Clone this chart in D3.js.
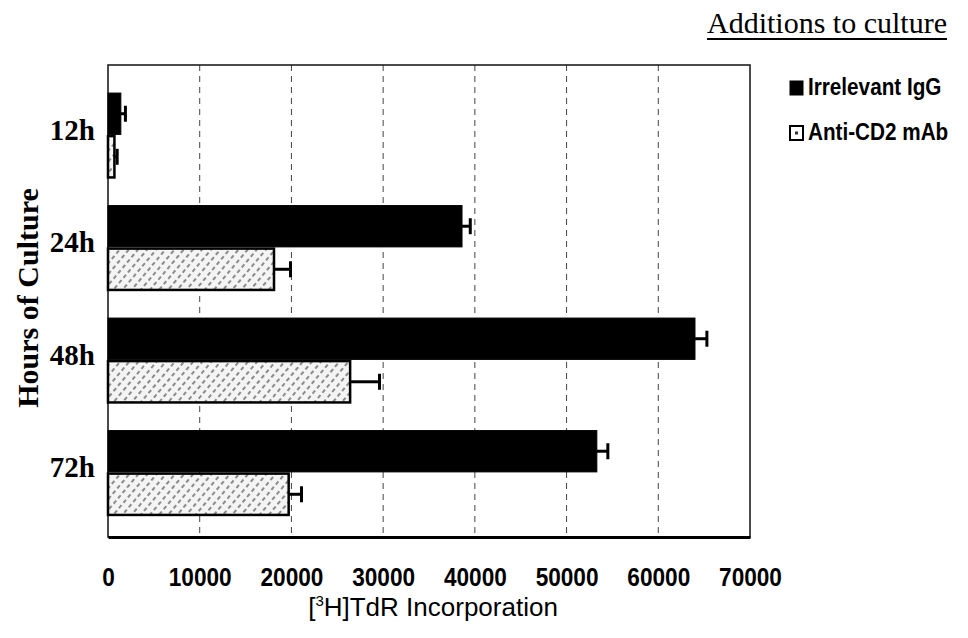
<!DOCTYPE html>
<html><head><meta charset="utf-8">
<script src="https://cdn.jsdelivr.net/npm/d3@7"></script>
<style>
html,body{margin:0;padding:0;background:#fff;}
svg{display:block;}
</style>
</head><body>
<svg id="chart" width="968" height="638"></svg>
<script>
// ---- data ----
const categories = ["12h", "24h", "48h", "72h"];
const seriesNames = ["Irrelevant IgG", "Anti-CD2 mAb"];
const iggValues = [1400, 38600, 64000, 53300];
const iggErrors = [500, 900, 1300, 1200];
const cd2Values = [700, 18100, 26400, 19700];
const cd2Errors = [300, 1800, 3200, 1400];
const xTicks = [0, 10000, 20000, 30000, 40000, 50000, 60000, 70000];
const titleText = "Additions to culture";
const xTitle = "TdR Incorporation";
const yTitle = "Hours of Culture";

const svg = d3.select("#chart");
const plot = {left: 108, right: 750, top: 65, bottom: 537};

const x = d3.scaleLinear().domain([0, 70000]).range([plot.left, plot.right]);
const y = d3.scaleBand().domain(categories).range([79, 529]).paddingInner(0.25).paddingOuter(0.125);
const ys = d3.scaleBand().domain(seriesNames).range([0, y.bandwidth()]).paddingInner(0.04);

// hatch pattern
const defs = svg.append("defs");
const pat = defs.append("pattern").attr("id", "hatch").attr("patternUnits", "userSpaceOnUse")
  .attr("width", 7).attr("height", 7).attr("patternTransform", "rotate(40)");
pat.append("rect").attr("width", 7).attr("height", 7).attr("fill", "#f4f4f4");
pat.append("line").attr("x1", 1).attr("y1", 0).attr("x2", 1).attr("y2", 7)
  .attr("stroke", "#333").attr("stroke-width", 1.1).attr("stroke-dasharray", "4,3");

// gridlines
svg.append("g").selectAll("line").data(xTicks.slice(1, -1)).join("line")
  .attr("x1", d => x(d)).attr("x2", d => x(d))
  .attr("y1", plot.top).attr("y2", plot.bottom)
  .attr("stroke", "#444").attr("stroke-width", 1).attr("stroke-dasharray", "6,5");

// frame
svg.append("rect").attr("x", plot.left).attr("y", plot.top)
  .attr("width", plot.right - plot.left).attr("height", plot.bottom - plot.top)
  .attr("fill", "none").attr("stroke", "#111").attr("stroke-width", 1.5);

// x axis
const xAxis = d3.axisBottom(x).tickValues(xTicks).tickSize(0).tickPadding(0).tickFormat(d3.format("d"));
const gx = svg.append("g").attr("transform", `translate(0,${plot.bottom})`).call(xAxis);
gx.select(".domain").attr("stroke", "#000").attr("stroke-width", 3);
gx.selectAll("text")
  .attr("y", 49).attr("dy", null)
  .attr("transform", "scale(0.87,1)")
  .style("font-family", "'Liberation Sans', Arial, sans-serif")
  .style("font-weight", "bold").style("font-size", "26px").attr("fill", "#000");

// y axis labels
const yAxis = d3.axisLeft(y).tickSize(0).tickPadding(0);
const gy = svg.append("g").attr("transform", `translate(95,-5)`).call(yAxis);
gy.select(".domain").remove();
gy.selectAll("text")
  .style("font-family", "'Liberation Serif', 'Times New Roman', serif")
  .style("font-weight", "bold").style("font-size", "29px").attr("fill", "#000");

// bars
const rows = categories.map((c, i) => ({
  cat: c,
  items: [
    {s: seriesNames[0], v: iggValues[i], e: iggErrors[i]},
    {s: seriesNames[1], v: cd2Values[i], e: cd2Errors[i]}
  ]
}));
const groups = svg.append("g").selectAll("g").data(rows).join("g")
  .attr("transform", d => `translate(0,${y(d.cat)})`);

groups.selectAll("rect").data(d => d.items).join("rect")
  .attr("x", x(0))
  .attr("y", d => ys(d.s))
  .attr("width", d => x(d.v) - x(0))
  .attr("height", ys.bandwidth())
  .attr("fill", d => d.s === seriesNames[0] ? "#000" : "url(#hatch)")
  .attr("stroke", "#000").attr("stroke-width", d => d.s === seriesNames[0] ? 1 : 2.5);

// error bars
const eb = groups.selectAll("g.err").data(d => d.items).join("g").attr("class", "err");
eb.append("line")
  .attr("x1", d => x(d.v)).attr("x2", d => x(d.v + d.e))
  .attr("y1", d => ys(d.s) + ys.bandwidth() / 2).attr("y2", d => ys(d.s) + ys.bandwidth() / 2)
  .attr("stroke", "#000").attr("stroke-width", 3);
eb.append("line")
  .attr("x1", d => x(d.v + d.e)).attr("x2", d => x(d.v + d.e))
  .attr("y1", d => ys(d.s) + ys.bandwidth() / 2 - 8).attr("y2", d => ys(d.s) + ys.bandwidth() / 2 + 8)
  .attr("stroke", "#000").attr("stroke-width", 3);

// axis titles
const xt = svg.append("text").attr("x", 433).attr("y", 616).attr("text-anchor", "middle")
  .style("font-family", "'Liberation Sans', Arial, sans-serif").style("font-size", "26px").attr("fill", "#000");
xt.append("tspan").text("[");
xt.append("tspan").attr("dy", -10).style("font-size", "15px").text("3");
xt.append("tspan").attr("dy", 10).text("H]" + xTitle);

svg.append("text").attr("transform", "translate(38,298) rotate(-90)").attr("text-anchor", "middle")
  .style("font-family", "'Liberation Serif', 'Times New Roman', serif")
  .style("font-weight", "bold").style("font-size", "30px").attr("fill", "#000").text(yTitle);

// legend title
const tt = svg.append("text").attr("x", 947).attr("y", 33).attr("text-anchor", "end")
  .style("font-family", "'Liberation Serif', 'Times New Roman', serif")
  .style("font-size", "30px").attr("fill", "#000").text(titleText);
const tb = tt.node().getBBox();
svg.append("line").attr("x1", tb.x).attr("x2", tb.x + tb.width).attr("y1", 39).attr("y2", 39)
  .attr("stroke", "#000").attr("stroke-width", 2);

// legend
const leg = svg.append("g").selectAll("g").data(seriesNames).join("g")
  .attr("transform", (d, i) => `translate(790,${81 + i * 45})`);
leg.append("rect").attr("width", 13).attr("height", 14)
  .attr("fill", (d, i) => i === 0 ? "#000" : "#fff")
  .attr("stroke", "#000").attr("stroke-width", (d, i) => i === 0 ? 1 : 2);
leg.filter((d, i) => i === 1).append("rect").attr("x", 5).attr("y", 5.5).attr("width", 3).attr("height", 3).attr("fill", "#333");
leg.append("text").attr("x", 20).attr("y", 14)
  .attr("transform", "scale(0.9,1)")
  .style("font-family", "'Liberation Sans', Arial, sans-serif").style("font-weight", "bold")
  .style("font-size", "23px").attr("fill", "#000")
  .text(d => d);
</script>
</body></html>
